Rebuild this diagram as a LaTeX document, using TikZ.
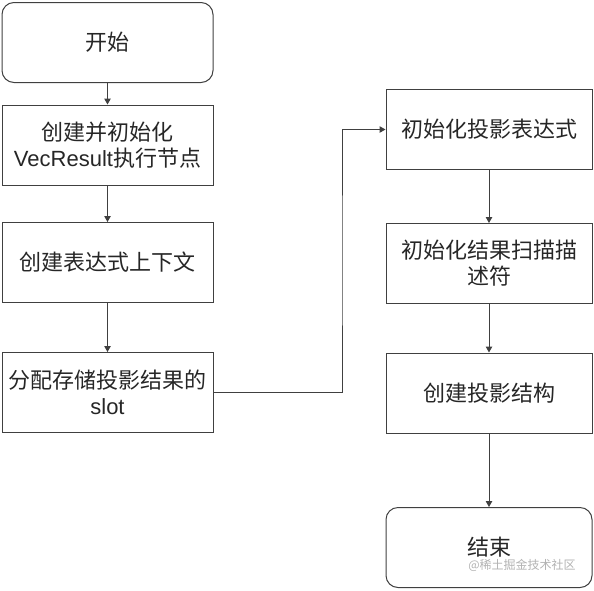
\documentclass[tikz,border=0pt]{standalone}
\usepackage{fontspec}
\setmainfont{Liberation Sans}
\newfontfamily\cjk{Noto Sans CJK SC}
\usetikzlibrary{arrows.meta}

\begin{document}
\begin{tikzpicture}[x=1pt,y=-1pt,
    box/.style={draw=black!75,line width=1pt,minimum height=80pt,
      align=center,font=\fontsize{22}{26}\selectfont,text=black!85,inner sep=2pt},
    leftbox/.style={box,minimum width=211pt},
    rightbox/.style={box,minimum width=206pt},
    arr/.style={draw=black!75,line width=1pt,
      -{Triangle[length=6pt,width=6.5pt]}}]
    \useasboundingbox (0,0) rectangle (594,590);
    % left column
    \node[leftbox,rounded corners=12pt] (start) at (107.5,42.5) {\cjk 开始};
    \node[leftbox] (vecres) at (107.5,145)
      {\cjk 创建并初始化\\VecResult{\cjk 执行节点}};
    \node[leftbox] (exprctx) at (107.5,262.5) {\cjk 创建表达式上下文};
    \node[leftbox] (slot) at (107.5,392.5)
      {\cjk 分配存储投影结果的\\slot};
    % right column
    \node[rightbox] (projexpr) at (489,129.5) {\cjk 初始化投影表达式};
    \node[rightbox] (scandesc) at (489,263.5)
      {\cjk 初始化结果扫描描\\\cjk 述符};
    \node[rightbox] (projinfo) at (489,393) {\cjk 创建投影结构};
    \node[rightbox,rounded corners=12pt] (stop) at (489,547.5) {\cjk 结束};
    \coordinate (turn) at (342,260);
    % connectors
    \draw[arr] (start) -- (vecres);
    \draw[arr] (vecres) -- (exprctx);
    \draw[arr] (exprctx) -- (slot);
    \draw[arr] (slot.east) -| (turn) |- (projexpr.west);
    \draw[arr] (projexpr) -- (scandesc);
    \draw[arr] (scandesc) -- (projinfo);
    \draw[arr] (projinfo) -- (stop);
    % watermark
    \node[text=black!30,font=\cjk\fontsize{12}{14}\selectfont]
      (mark) at (522,565) {@稀土掘金技术社区};
\end{tikzpicture}
\end{document}
